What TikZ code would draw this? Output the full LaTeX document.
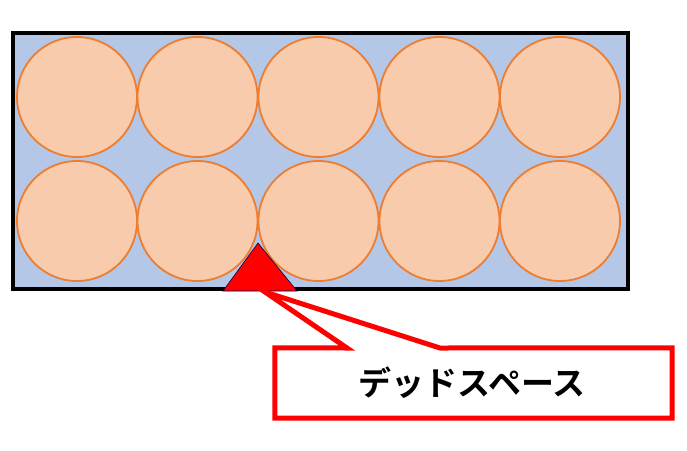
\documentclass[tikz,border=0pt]{standalone}
\usepackage{fontspec}
\newfontfamily\cjk{Noto Sans CJK JP}[BoldFont={* Bold}]
\definecolor{boxblue}{HTML}{B4C7E7}
\definecolor{ballfill}{HTML}{F8CBAD}
\definecolor{balledge}{HTML}{ED7D31}
\definecolor{calloutred}{HTML}{FF0000}
\tikzset{
  ball/.style={circle, draw=balledge, fill=ballfill, line width=1.8pt,
    minimum size=120pt, inner sep=0pt},
  deadmark/.style={draw=black!70!blue, fill=calloutred, line width=0.6pt},
  callout/.style={draw=calloutred, line width=5pt, fill=white}
}
\begin{document}
\begin{tikzpicture}[x=1pt, y=-1pt]
      \useasboundingbox (0,0) rectangle (687,450);
      \draw[fill=boxblue, line width=4pt] (13,33) rectangle (628,289);
      \draw
        (77,97) node[ball] (b11){}
        (197.5,97) node[ball] (b12){}
        (318.5,97) node[ball] (b13){}
        (439.5,97) node[ball] (b14){}
        (560,97) node[ball] (b15){}
        (77,221) node[ball] (b21){}
        (197.5,221) node[ball] (b22){}
        (318.5,221) node[ball] (b23){}
        (439.5,221) node[ball] (b24){}
        (560,221) node[ball] (b25){};
      \coordinate (top) at (258,243);
      \coordinate (tip) at (265,292);
      \draw[deadmark] (top) -- (297,291) -- (223,291) -- cycle;
      \node[minimum width=397pt, minimum height=70pt, inner sep=0pt]
        (label) at (473.5,383) {};
      \begin{scope}[callout]
        \draw (label.north west) -- (347,348) -- (tip) -- (440,348)
          -- (label.north east) -- (label.south east) -- (label.south west)
          -- cycle;
      \end{scope}
      \node[font=\cjk\bfseries\fontsize{33}{33}\selectfont] (text)
        at (472,383) {デッドスペース};
    \end{tikzpicture}
\end{document}
